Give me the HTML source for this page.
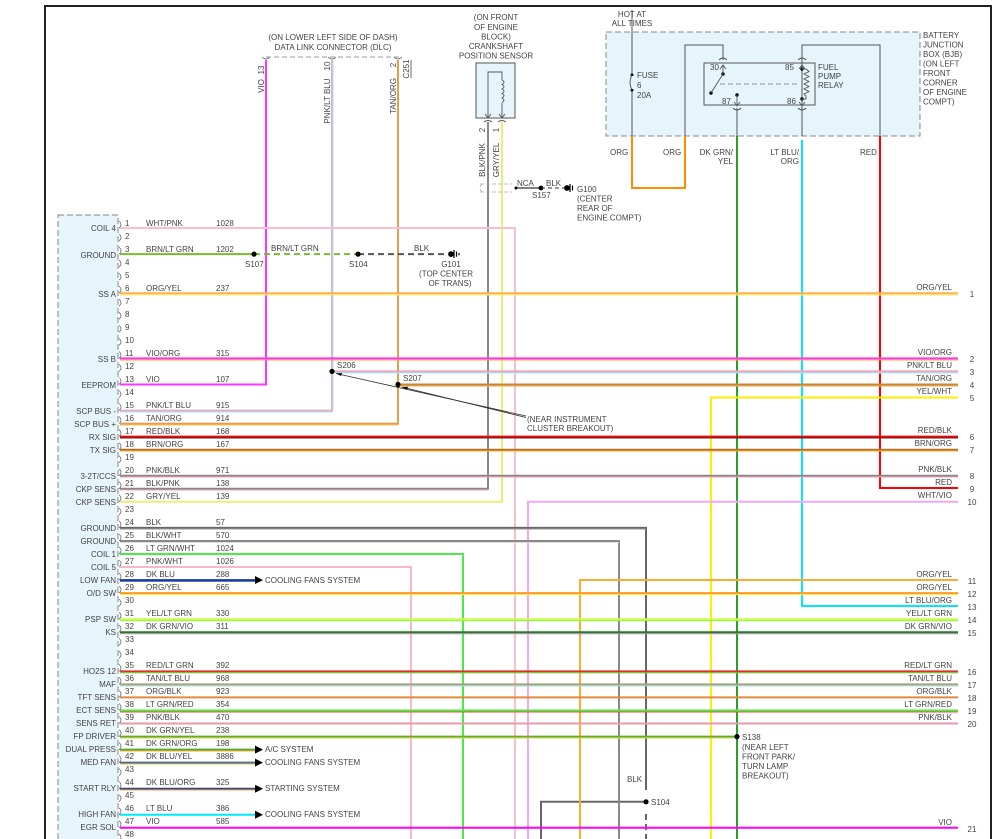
<!DOCTYPE html>
<html><head><meta charset="utf-8"><style>
html,body{margin:0;padding:0;background:#fff;width:1000px;height:839px;overflow:hidden}
svg{display:block}
text{font-family:"Liberation Sans",sans-serif;font-size:8px;fill:#444}
.r{text-anchor:end}.m{text-anchor:middle}
</style></head><body>
<svg width="1000" height="839" viewBox="0 0 1000 839" xmlns="http://www.w3.org/2000/svg">
<defs>
<path id="pm" d="M119,-7 q4,3.5 0,7" fill="none" stroke="#666" stroke-width="0.8"/>
</defs>
<path d="M45,839 V6 H991 V839" fill="none" stroke="#222" stroke-width="2"/>

<rect x="606" y="32" width="314" height="104" fill="#e6f4fb" stroke="#888" stroke-dasharray="6,3"/>
<rect x="704" y="63" width="111" height="42" fill="#e6f4fb" stroke="#555"/>
<rect x="58" y="215" width="60" height="630" fill="#e6f4fb" stroke="#888" stroke-dasharray="6,3"/>
<rect x="476" y="63" width="39" height="55" fill="#e6f4fb" stroke="#555"/>

<g fill="none" stroke-width="2">
<path d="M632,10 V136" stroke="#555" stroke-width="1"/>
<path d="M632,136 V188 H685 V136" stroke="#ff8c00"/>
<path d="M685,136 V45 H723 V60" stroke="#555" stroke-width="1"/>
<path d="M802,136 V45 H880 V136" stroke="#555" stroke-width="1"/>
<path d="M737,108 V136" stroke="#555" stroke-width="1"/>
<path d="M737,136 V839" stroke="#2aa02a"/>
<path d="M802,140 V606 H958" stroke="#00e8ff"/>
<path d="M880,136 V488 H958" stroke="#ff0000"/>
<path d="M266,60 V384.5 H120" stroke="#ff33ff"/>
<path d="M332,60 V410.6 H120" stroke="#e8a8c0"/>
<path d="M333,60 V409" stroke="#9fe8f0" stroke-width="1"/>
<path d="M398,60 V423.6 H120" stroke="#e0a050"/>
<path d="M488,122 V488.8 H120" stroke="#888"/>
<path d="M502,122 V501.8 H120" stroke="#eeee77"/>
<path d="M120,228 H515 V839" stroke="#f8c0cc"/>
<path d="M120,254.1 H254" stroke="#77bb33"/>
<path d="M254,254.1 H358" stroke="#77bb33" stroke-dasharray="6,4"/>
<path d="M358,254.1 H448" stroke="#555" stroke-dasharray="6,4"/>
<path d="M120,293.2 H958" stroke="#ffb050"/>
<path d="M120,358.4 H958" stroke="#ff33ff"/>
<path d="M332,371.4 H958" stroke="#f0a0b8"/>
<path d="M398,384.5 H958" stroke="#c08a40"/>
<path d="M958,397.5 H711 V839" stroke="#ffee00"/>
<path d="M120,436.6 H958" stroke="#ff0000"/>
<path d="M120,449.7 H958" stroke="#b07020"/>
<path d="M120,475.8 H958" stroke="#888"/>
<path d="M958,501.8 H528 V839" stroke="#f0a8f0"/>
<path d="M120,527.9 H646 V790" stroke="#666"/>
<path d="M646,814 V839" stroke="#666" stroke-dasharray="6,4"/>
<path d="M646,801.8 H541 V839" stroke="#666"/>
<path d="M120,541 H619 V839" stroke="#888"/>
<path d="M120,554 H463 V839" stroke="#44ee44"/>
<path d="M120,567 H411 V839" stroke="#f8b8c8"/>
<path d="M120,580.1 H255" stroke="#1a3a9a"/>
<path d="M958,580 H580 V839" stroke="#ffaa33"/>
<path d="M120,593.1 H958" stroke="#ff9922"/>
<path d="M120,619.2 H958" stroke="#ccff44"/>
<path d="M120,632.2 H958" stroke="#108a10"/>
<path d="M120,671.4 H958" stroke="#dd3322"/>
<path d="M120,684.4 H958" stroke="#b0a070"/>
<path d="M120,697.4 H958" stroke="#e08a40"/>
<path d="M120,710.5 H958" stroke="#44ee44"/>
<path d="M120,723.5 H958" stroke="#e89aaa"/>
<path d="M120,736.6 H737" stroke="#66aa33"/>
<path d="M120,749.6 H255" stroke="#55aa33"/>
<path d="M120,762.6 H255" stroke="#556699"/>
<path d="M120,788.7 H255" stroke="#334488"/>
<path d="M120,814.8 H255" stroke="#00e8ff"/>
<path d="M120,827.8 H958" stroke="#ff00ff"/>
</g>
<g fill="none" stroke-width="1">
<path d="M120,295 H958" stroke="#ffee66"/>
<path d="M120,360 H958" stroke="#ffaa33"/>
<path d="M332,373 H958" stroke="#99eeff"/>
<path d="M398,386 H958" stroke="#ffaa44"/>
<path d="M120,438 H958" stroke="#333"/>
<path d="M120,451 H958" stroke="#ffaa33"/>
<path d="M120,477 H958" stroke="#f4a0b8"/>
<path d="M120,490 H488" stroke="#f4a0b8"/>
<path d="M120,529 H646" stroke="#999"/>
<path d="M120,542.5 H619" stroke="#ddd"/>
<path d="M120,555.5 H463" stroke="#fff"/>
<path d="M120,581.5 H255" stroke="#5577cc"/>
<path d="M120,594.5 H958" stroke="#ffee44"/>
<path d="M120,620.7 H958" stroke="#88ee44"/>
<path d="M120,633.7 H958" stroke="#cc77cc"/>
<path d="M120,672.9 H958" stroke="#66dd44"/>
<path d="M120,685.9 H958" stroke="#88ddee"/>
<path d="M120,712 H958" stroke="#ff4444"/>
<path d="M120,738 H737" stroke="#dddd44"/>
<path d="M120,751 H255" stroke="#ffaa33"/>
<path d="M120,764 H255" stroke="#ddcc44"/>
<path d="M120,790 H255" stroke="#ffaa44"/>
<path d="M120,412 H332" stroke="#99eeff"/>
<path d="M120,425 H398" stroke="#ffbb55"/>
</g>
<g fill="#000">
<path d="M255,576 L263,580.1 L255,584Z"/>
<path d="M255,745.6 L263,749.6 L255,753.6Z"/>
<path d="M255,758.6 L263,762.6 L255,766.6Z"/>
<path d="M255,784.7 L263,788.7 L255,792.7Z"/>
<path d="M255,810.8 L263,814.8 L255,818.8Z"/>
</g>
<text x="265" y="583">COOLING FANS SYSTEM</text>
<text x="265" y="752">A/C SYSTEM</text>
<text x="265" y="765">COOLING FANS SYSTEM</text>
<text x="265" y="791">STARTING SYSTEM</text>
<text x="265" y="817">COOLING FANS SYSTEM</text>

<g fill="#000">
<circle cx="254" cy="254.1" r="2.6"/><circle cx="358" cy="254.1" r="2.6"/>
<circle cx="332" cy="371.4" r="2.6"/><circle cx="398" cy="384.5" r="2.6"/>
<circle cx="646" cy="801.8" r="2.6"/><circle cx="737" cy="736.6" r="2.6"/>
<circle cx="541" cy="188" r="2.4"/><circle cx="516" cy="188" r="1.5"/>
</g>
<text x="245" y="267">S107</text><text x="349" y="267">S104</text>
<text x="337" y="368">S206</text><text x="403" y="381">S207</text>
<text x="651" y="805">S104</text><text x="627" y="782">BLK</text>
<text x="742" y="740">S138</text>
<text x="742" y="750">(NEAR LEFT</text><text x="742" y="759.5">FRONT PARK/</text><text x="742" y="769">TURN LAMP</text><text x="742" y="778.5">BREAKOUT)</text>
<text x="271" y="251">BRN/LT GRN</text><text x="414" y="251">BLK</text>
<g stroke="#000" stroke-width="1.2"><circle cx="451" cy="254.1" r="2.3" fill="#000"/><path d="M454,250 V258 M456.5,251.5 V256.7 M459,253 V255.3"/></g>
<text class="m" x="451" y="267">G101</text><text class="m" x="446" y="276.5">(TOP CENTER</text><text class="m" x="450" y="286">OF TRANS)</text>
<g stroke="#333" stroke-width="0.8" fill="none"><path d="M526,416 L336,373.5"/><path d="M526,417.5 L402,387"/></g>
<g fill="#000"><path d="M336,373.5 l6,-0.5 l-1,3z"/><path d="M402,387 l6,-0.3 l-1,3z"/></g>
<text x="527" y="422">(NEAR INSTRUMENT</text><text x="527" y="431">CLUSTER BREAKOUT)</text>

<path d="M266,57 H400" stroke="#999" stroke-dasharray="5,3" fill="none"/>
<g fill="none" stroke="#666" stroke-width="0.8"><path d="M262,57 q4,4 8,0"/><path d="M328,57 q4,4 8,0"/><path d="M394,57 q4,4 8,0"/></g>
<text class="m" x="333" y="40">(ON LOWER LEFT SIDE OF DASH)</text>
<text class="m" x="333" y="50">DATA LINK CONNECTOR (DLC)</text>
<text transform="translate(264,70) rotate(-90)" class="m">13</text>
<text transform="translate(264,86) rotate(-90)" class="m">VIO</text>
<text transform="translate(330,66) rotate(-90)" class="m">10</text>
<text transform="translate(330,101) rotate(-90)" class="m">PNK/LT BLU</text>
<text transform="translate(396,65) rotate(-90)" class="m">2</text>
<text transform="translate(396,96) rotate(-90)" class="m">TAN/ORG</text>
<text transform="translate(409,69) rotate(-90)" class="m">C251</text>
<path d="M411,60 V78" stroke="#444" stroke-width="0.8"/>

<text class="m" x="496" y="20">(ON FRONT</text><text class="m" x="496" y="30">OF ENGINE</text><text class="m" x="496" y="39.5">BLOCK)</text><text class="m" x="496" y="49">CRANKSHAFT</text><text class="m" x="496" y="58.5">POSITION SENSOR</text>
<g fill="none" stroke="#555" stroke-width="0.9">
<path d="M488,117 V72 H502 V80 M502,103 V117"/>
<path d="M502,80 q4,2 0,4.5 q4,2 0,4.5 q4,2 0,4.5 q4,2 0,4.5 q4,2 0,4.5"/>
<path d="M485,114 L488,118 L491,114 M499,114 L502,118 L505,114"/>
<path d="M484,122 q4,-3 8,0 M498,122 q4,-3 8,0"/>
</g>
<text transform="translate(485,130) rotate(-90)" class="m">2</text>
<text transform="translate(499,130) rotate(-90)" class="m">1</text>
<text transform="translate(485,160) rotate(-90)" class="m">BLK/PNK</text>
<text transform="translate(499,160) rotate(-90)" class="m">GRY/YEL</text>
<g fill="none" stroke="#aaa" stroke-width="0.8" stroke-dasharray="4,2"><path d="M480,184 H512 M480,192 H512"/><path d="M482,184 q-4,4 0,8"/></g>
<path d="M516,188 H541" stroke="#000" stroke-width="1"/>
<path d="M541,188 H566" stroke="#333" stroke-width="1" stroke-dasharray="4,3"/>
<g stroke="#000" stroke-width="1.2"><circle cx="567" cy="188" r="2.3" fill="#000"/><path d="M570,184 V192 M572.5,185.5 V190.5"/></g>
<text x="517" y="186">NCA</text><text x="546" y="186">BLK</text><text x="532" y="198">S157</text>
<text x="577" y="192">G100</text><text x="577" y="201.5">(CENTER</text><text x="577" y="211">REAR OF</text><text x="577" y="220.5">ENGINE COMPT)</text>

<text class="m" x="632" y="17">HOT AT</text><text class="m" x="632" y="26">ALL TIMES</text>
<g fill="#000"><circle cx="632" cy="75" r="1.5"/><circle cx="632" cy="90" r="1.5"/><circle cx="723" cy="74" r="1.7"/><circle cx="711" cy="93" r="1.7"/><circle cx="737" cy="95" r="1.7"/><circle cx="802" cy="69" r="1.7"/><circle cx="802" cy="99" r="1.7"/></g>
<path d="M632,76 V89" stroke="#e6f4fb" stroke-width="2"/>
<path d="M632,75 q-4,7.5 0,15" fill="none" stroke="#555" stroke-width="0.9"/>
<text x="637" y="78">FUSE</text><text x="637" y="88">6</text><text x="637" y="98">20A</text>
<g fill="none" stroke="#555" stroke-width="0.9">
<path d="M719,60 q4,-4 8,0 M733,108 q4,4 8,0 M798,60 q4,-4 8,0 M798,108 q4,4 8,0"/>
<path d="M723,74 V66 M720,69 L723,65 L726,69"/>
<path d="M723,74 L711,93"/>
<path d="M737,95 V105 M734,102 L737,106 L740,102"/>
<path d="M802,69 V65 M799,69 L802,65 L805,69 M802,99 V105 M799,102 L802,106 L805,102"/>
<path d="M802,69 H806 l3,2.5 l-5,2.5 l5,2.5 l-5,2.5 l5,2.5 l-5,2.5 l5,2.5 l-5,2.5 l5,2.5 l-5,2.5 l2,2 V99 H802"/>
</g>
<path d="M720,84 H800" stroke="#777" stroke-width="0.8" stroke-dasharray="5,3"/>
<text x="710" y="70">30</text><text x="785" y="70">85</text><text x="722" y="104">87</text><text x="787" y="104">86</text>
<text x="818" y="70">FUEL</text><text x="818" y="79">PUMP</text><text x="818" y="88">RELAY</text>
<text x="923" y="38">BATTERY</text><text x="923" y="47.5">JUNCTION</text><text x="923" y="57">BOX (BJB)</text><text x="923" y="66.5">(ON LEFT</text><text x="923" y="76">FRONT</text><text x="923" y="85.5">CORNER</text><text x="923" y="95">OF ENGINE</text><text x="923" y="104.5">COMPT)</text>
<text x="610" y="155">ORG</text><text x="663" y="155">ORG</text>
<text class="r" x="733" y="155">DK GRN/</text><text class="r" x="733" y="164">YEL</text>
<text class="r" x="799" y="155">LT BLU/</text><text class="r" x="799" y="164">ORG</text>
<text x="860" y="155">RED</text>

<g>
<use href="#pm" y="228"/><use href="#pm" y="241"/><use href="#pm" y="254.1"/><use href="#pm" y="267.1"/><use href="#pm" y="280.2"/><use href="#pm" y="293.2"/><use href="#pm" y="306.2"/><use href="#pm" y="319.3"/><use href="#pm" y="332.3"/><use href="#pm" y="345.4"/><use href="#pm" y="358.4"/><use href="#pm" y="371.4"/><use href="#pm" y="384.5"/><use href="#pm" y="397.5"/><use href="#pm" y="410.6"/><use href="#pm" y="423.6"/><use href="#pm" y="436.6"/><use href="#pm" y="449.7"/><use href="#pm" y="462.7"/><use href="#pm" y="475.8"/><use href="#pm" y="488.8"/><use href="#pm" y="501.8"/><use href="#pm" y="514.9"/><use href="#pm" y="527.9"/><use href="#pm" y="541"/><use href="#pm" y="554"/><use href="#pm" y="567"/><use href="#pm" y="580.1"/><use href="#pm" y="593.1"/><use href="#pm" y="606.2"/><use href="#pm" y="619.2"/><use href="#pm" y="632.2"/><use href="#pm" y="645.3"/><use href="#pm" y="658.3"/><use href="#pm" y="671.4"/><use href="#pm" y="684.4"/><use href="#pm" y="697.4"/><use href="#pm" y="710.5"/><use href="#pm" y="723.5"/><use href="#pm" y="736.6"/><use href="#pm" y="749.6"/><use href="#pm" y="762.6"/><use href="#pm" y="775.7"/><use href="#pm" y="788.7"/><use href="#pm" y="801.8"/><use href="#pm" y="814.8"/><use href="#pm" y="827.8"/><use href="#pm" y="840.9"/>
</g>
<g>
<text x="125" y="226">1</text><text x="125" y="239">2</text><text x="125" y="252">3</text><text x="125" y="265">4</text><text x="125" y="278">5</text><text x="125" y="291">6</text><text x="125" y="304">7</text><text x="125" y="317">8</text><text x="125" y="330">9</text><text x="125" y="343">10</text><text x="125" y="356">11</text><text x="125" y="369">12</text><text x="125" y="382">13</text><text x="125" y="395">14</text><text x="125" y="408">15</text><text x="125" y="421">16</text><text x="125" y="434">17</text><text x="125" y="447">18</text><text x="125" y="460">19</text><text x="125" y="473">20</text><text x="125" y="486">21</text><text x="125" y="499">22</text><text x="125" y="512">23</text><text x="125" y="525">24</text><text x="125" y="538">25</text><text x="125" y="551">26</text><text x="125" y="564">27</text><text x="125" y="577">28</text><text x="125" y="590">29</text><text x="125" y="603">30</text><text x="125" y="616">31</text><text x="125" y="629">32</text><text x="125" y="642">33</text><text x="125" y="655">34</text><text x="125" y="668">35</text><text x="125" y="681">36</text><text x="125" y="694">37</text><text x="125" y="707">38</text><text x="125" y="720">39</text><text x="125" y="733">40</text><text x="125" y="746">41</text><text x="125" y="759">42</text><text x="125" y="772">43</text><text x="125" y="785">44</text><text x="125" y="798">45</text><text x="125" y="811">46</text><text x="125" y="824">47</text><text x="125" y="837">48</text>
</g>
<g>
<text x="146" y="226">WHT/PNK</text><text x="216" y="226">1028</text>
<text x="146" y="252">BRN/LT GRN</text><text x="216" y="252">1202</text>
<text x="146" y="291">ORG/YEL</text><text x="216" y="291">237</text>
<text x="146" y="356">VIO/ORG</text><text x="216" y="356">315</text>
<text x="146" y="382">VIO</text><text x="216" y="382">107</text>
<text x="146" y="408">PNK/LT BLU</text><text x="216" y="408">915</text>
<text x="146" y="421">TAN/ORG</text><text x="216" y="421">914</text>
<text x="146" y="434">RED/BLK</text><text x="216" y="434">168</text>
<text x="146" y="447">BRN/ORG</text><text x="216" y="447">167</text>
<text x="146" y="473">PNK/BLK</text><text x="216" y="473">971</text>
<text x="146" y="486">BLK/PNK</text><text x="216" y="486">138</text>
<text x="146" y="499">GRY/YEL</text><text x="216" y="499">139</text>
<text x="146" y="525">BLK</text><text x="216" y="525">57</text>
<text x="146" y="538">BLK/WHT</text><text x="216" y="538">570</text>
<text x="146" y="551">LT GRN/WHT</text><text x="216" y="551">1024</text>
<text x="146" y="564">PNK/WHT</text><text x="216" y="564">1026</text>
<text x="146" y="577">DK BLU</text><text x="216" y="577">288</text>
<text x="146" y="590">ORG/YEL</text><text x="216" y="590">665</text>
<text x="146" y="616">YEL/LT GRN</text><text x="216" y="616">330</text>
<text x="146" y="629">DK GRN/VIO</text><text x="216" y="629">311</text>
<text x="146" y="668">RED/LT GRN</text><text x="216" y="668">392</text>
<text x="146" y="681">TAN/LT BLU</text><text x="216" y="681">968</text>
<text x="146" y="694">ORG/BLK</text><text x="216" y="694">923</text>
<text x="146" y="707">LT GRN/RED</text><text x="216" y="707">354</text>
<text x="146" y="720">PNK/BLK</text><text x="216" y="720">470</text>
<text x="146" y="733">DK GRN/YEL</text><text x="216" y="733">238</text>
<text x="146" y="746">DK GRN/ORG</text><text x="216" y="746">198</text>
<text x="146" y="759">DK BLU/YEL</text><text x="216" y="759">3886</text>
<text x="146" y="785">DK BLU/ORG</text><text x="216" y="785">325</text>
<text x="146" y="811">LT BLU</text><text x="216" y="811">386</text>
<text x="146" y="824">VIO</text><text x="216" y="824">585</text>
</g>
<g>
<text class="r" x="116" y="231">COIL 4</text><text class="r" x="116" y="258">GROUND</text><text class="r" x="116" y="297">SS A</text><text class="r" x="116" y="362">SS B</text><text class="r" x="116" y="388">EEPROM</text><text class="r" x="116" y="414">SCP BUS -</text><text class="r" x="116" y="427">SCP BUS +</text><text class="r" x="116" y="440">RX SIG</text><text class="r" x="116" y="453">TX SIG</text><text class="r" x="116" y="479">3-2T/CCS</text><text class="r" x="116" y="492">CKP SENS</text><text class="r" x="116" y="505">CKP SENS</text><text class="r" x="116" y="531">GROUND</text><text class="r" x="116" y="544">GROUND</text><text class="r" x="116" y="557">COIL 1</text><text class="r" x="116" y="570">COIL 5</text><text class="r" x="116" y="583">LOW FAN</text><text class="r" x="116" y="596">O/D SW</text><text class="r" x="116" y="622">PSP SW</text><text class="r" x="116" y="635">KS</text><text class="r" x="116" y="674">HO2S 12</text><text class="r" x="116" y="687">MAF</text><text class="r" x="116" y="700">TFT SENS</text><text class="r" x="116" y="713">ECT SENS</text><text class="r" x="116" y="726">SENS RET</text><text class="r" x="116" y="739">FP DRIVER</text><text class="r" x="116" y="752">DUAL PRESS</text><text class="r" x="116" y="765">MED FAN</text><text class="r" x="116" y="791">START RLY</text><text class="r" x="116" y="817">HIGH FAN</text><text class="r" x="116" y="830">EGR SOL</text>
</g>
<g>
<text class="r" x="952" y="290">ORG/YEL</text><text class="m" x="972" y="297">1</text>
<text class="r" x="952" y="355">VIO/ORG</text><text class="m" x="972" y="362">2</text>
<text class="r" x="952" y="368">PNK/LT BLU</text><text class="m" x="972" y="375">3</text>
<text class="r" x="952" y="381">TAN/ORG</text><text class="m" x="972" y="388">4</text>
<text class="r" x="952" y="394">YEL/WHT</text><text class="m" x="972" y="401">5</text>
<text class="r" x="952" y="433">RED/BLK</text><text class="m" x="972" y="440">6</text>
<text class="r" x="952" y="446">BRN/ORG</text><text class="m" x="972" y="453">7</text>
<text class="r" x="952" y="472">PNK/BLK</text><text class="m" x="972" y="479">8</text>
<text class="r" x="952" y="485">RED</text><text class="m" x="972" y="492">9</text>
<text class="r" x="952" y="498">WHT/VIO</text><text class="m" x="972" y="505">10</text>
<text class="r" x="952" y="577">ORG/YEL</text><text class="m" x="972" y="584">11</text>
<text class="r" x="952" y="590">ORG/YEL</text><text class="m" x="972" y="597">12</text>
<text class="r" x="952" y="603">LT BLU/ORG</text><text class="m" x="972" y="610">13</text>
<text class="r" x="952" y="616">YEL/LT GRN</text><text class="m" x="972" y="623">14</text>
<text class="r" x="952" y="629">DK GRN/VIO</text><text class="m" x="972" y="636">15</text>
<text class="r" x="952" y="668">RED/LT GRN</text><text class="m" x="972" y="675">16</text>
<text class="r" x="952" y="681">TAN/LT BLU</text><text class="m" x="972" y="688">17</text>
<text class="r" x="952" y="694">ORG/BLK</text><text class="m" x="972" y="701">18</text>
<text class="r" x="952" y="707">LT GRN/RED</text><text class="m" x="972" y="714">19</text>
<text class="r" x="952" y="720">PNK/BLK</text><text class="m" x="972" y="727">20</text>
<text class="r" x="952" y="825">VIO</text><text class="m" x="972" y="832">21</text>
</g>
</svg>
</body></html>
